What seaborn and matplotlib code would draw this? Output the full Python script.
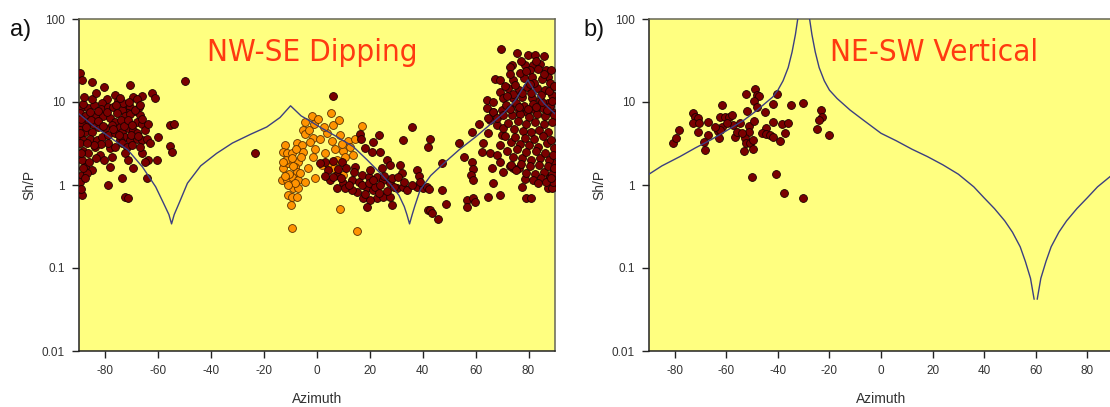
import numpy as np
import pandas as pd
import matplotlib
matplotlib.use("Agg")
import matplotlib.pyplot as plt
from matplotlib import font_manager
import seaborn as sns

# ---------------- panel a: NW-SE dipping ----------------
# dark red events (azimuth in degrees, Sh/P amplitude ratio)
az_a_dark = [
    -89.6, -89.0, -84.9, -80.4, -70.7, -50.1, -62.5, -61.2, -66.3, -69.4, -68.2, -76.4, -79.5, -75.1,
    -81.4, -81.7, -78.9, -72.6, -70.7, -67.5, -71.6, -68.8, -73.8, -89.0, -86.5, -89.6, -87.7, -83.9,
    -80.8, -78.3, -76.4, -72.6, -70.7, -66.9, -68.2, -66.3, -72.0, -74.5, -77.6, -80.2, -82.7, -84.6,
    -86.5, -89.0, -89.6, -87.7, -85.2, -89.8, -88.3, -85.8, -83.3, -81.4, -78.9, -76.4, -73.8, -71.3,
    -69.4, -72.6, -74.5, -70.7, -68.2, -66.3, -64.4, -63.1, -60.0, -55.6, -53.9, -55.6, -54.9, -78.3,
    -76.4, -73.8, -72.0, -70.1, -72.6, -71.3, -66.3, -63.8, -60.6, -65.0, -88.3, -86.5, -89.0, -87.7,
    -85.2, -89.0, -87.1, -78.3, -69.4, -64.4, -73.8, -78.9, -89.0, -72.6, -71.3, -89.8, -83.9, -82.0,
    -66.9,
    -88.5, -86.0, -84.2, -82.8, -85.5, -83.0, -87.3, -81.0, -79.6, -77.2, -75.8, -74.0, -77.0, -75.0,
    -73.0, -71.5, -69.8, -68.0, -70.5, -67.6, -65.2, -64.0, -66.0, -69.0, -73.5, -79.0, -81.8, -84.4,
    -86.9, -89.3, -89.5, -89.4, -88.0, -85.0, -83.5, -76.0, -74.5, -71.0, -67.0, -80.5, -83.5, -77.5,
    -86.3, -88.6, -89.6, -87.9, -89.2,
    -23.4, 6.2,
    35.8, 32.7, 42.1, 23.6, 21.1, 16.3, 16.5, 18.2, 20.7, 23.8, 26.4, 27.6, 31.4, 32.0, 37.7, 38.4,
    14.4, 9.3, 6.2, 3.0, 1.1, 4.3, 4.9, 7.5, 10.0, 13.1, 15.7, 16.9, 19.8, 22.6, 25.1, 27.6, 30.2,
    32.7, 34.0, 37.7, 40.2, 41.5, 18.8, 21.3, 22.6, 25.1, 27.6, 17.5, 20.1, 15.0, 13.1, 10.6, 7.5,
    28.3, 18.8, 42.1,
    17.0, 19.5, 22.0, 24.0, 26.5, 29.0, 21.0, 23.5, 18.0, 25.5, 28.5, 12.0, 9.0, 6.0, 14.0, 11.0,
    3.0, 8.0, 20.0, 24.5, 30.5, 33.0, 36.0, 39.0,
    42.8, 47.2, 42.5, 47.2, 42.8, 43.4, 45.9, 48.8, 53.8, 55.4, 58.5, 61.4, 58.5, 58.9, 58.1, 59.1,
    56.6, 58.9, 59.8, 56.6, 64.8, 69.2, 66.7, 66.1, 62.3, 65.4, 62.9, 64.8, 65.4, 64.2, 66.5, 68.0,
    69.9, 70.5, 69.2, 68.0, 69.2, 70.5, 77.4, 78.7, 79.1, 81.0, 74.3, 76.2, 73.0, 88.8, 88.2, 89.4,
    87.5, 89.0,
    69.5, 75.5, 79.9, 82.5, 85.9, 73.6, 72.8, 78.7, 81.6, 84.4, 80.6, 83.7, 86.6, 87.5, 67.3, 69.2,
    74.3, 78.1, 81.2, 85.0, 88.1, 72.4, 69.2, 76.2, 79.3, 83.1, 86.3, 88.8, 64.2, 66.5, 70.5, 74.3,
    77.4, 81.2, 84.4, 87.5, 66.7, 69.9, 73.0, 76.2, 79.3, 82.5, 85.6, 88.8, 64.8, 68.0,
    88.1, 88.8, 89.4,
    71.5, 73.8, 75.2, 76.9, 78.4, 80.1, 81.7, 83.3, 85.0, 86.4, 88.2, 89.5,
    72.3, 74.6, 76.0, 77.8, 79.2, 81.0, 82.6, 84.1, 85.8, 87.4, 89.0,
    71.0, 73.2, 75.0, 76.7, 78.5, 80.3, 82.0, 83.6, 85.3, 87.0, 88.6, 89.7,
    72.0, 74.1, 75.8, 77.5, 79.0, 80.9, 82.7, 84.5, 86.1, 87.8, 89.3,
    73.5, 75.3, 77.0, 78.9, 80.6, 82.3, 84.0, 85.7, 87.2, 88.9, 89.8,
    81.5, 84.8, 86.6, 88.3, 83.4,
    70.2, 72.9, 76.3, 79.7, 83.0, 86.9, 88.8, 74.0, 77.7, 80.8, 84.6, 87.9, 89.6, 71.2, 73.0, 76.8,
    79.0, 82.2, 85.7, 88.5, 83.0, 77.0, 80.5, 75.0, 72.0,
]
ratio_a_dark = [
    22.1, 18.4, 17.3, 15.0, 16.0, 18.1, 12.7, 11.1, 11.9, 11.6, 10.8, 12.1, 10.8, 10.4,
    9.6, 8.2, 8.8, 9.0, 8.8, 8.8, 7.4, 7.7, 8.0, 8.8, 8.4, 7.3, 6.7, 6.8,
    6.7, 6.4, 5.8, 6.7, 7.1, 7.0, 5.8, 5.5, 5.5, 5.0, 5.3, 4.8, 5.0, 5.5,
    5.8, 5.5, 4.6, 4.4, 4.4, 3.8, 3.5, 3.6, 3.5, 3.8, 4.0, 4.2, 4.4, 4.8,
    4.6, 3.8, 3.5, 3.5, 3.6, 3.5, 3.6, 3.2, 3.8, 5.3, 5.5, 2.95, 2.5, 2.8,
    2.9, 3.2, 2.9, 3.0, 2.4, 2.0, 2.4, 2.0, 2.0, 1.9, 2.6, 2.4, 2.0, 1.66,
    1.5, 1.32, 1.38, 1.66, 1.59, 1.2, 1.2, 1.0, 0.76, 0.72, 0.69, 3.2, 2.9, 2.3,
    2.9,
    9.5, 7.6, 9.2, 7.8, 6.1, 5.9, 5.0, 5.2, 7.5, 8.6, 7.3, 6.1, 4.7, 4.0,
    5.2, 6.0, 5.3, 4.2, 4.0, 3.9, 4.6, 5.5, 6.3, 7.9, 9.6, 3.2, 3.1, 3.0,
    3.2, 2.4, 4.2, 6.2, 11.5, 11.0, 13.0, 9.3, 11.2, 10.0, 9.2, 2.0, 2.1, 2.2,
    1.9, 1.6, 1.1, 1.2, 0.9,
    2.45, 11.8,
    5.0, 3.5, 2.9, 4.0, 3.3, 4.1, 3.6, 2.8, 2.5, 2.5, 2.0, 1.74, 1.74, 1.41, 1.52, 1.28,
    1.66, 1.91, 1.96, 1.91, 1.82, 1.52, 1.15, 1.32, 1.07, 1.15, 1.1, 1.32, 1.24, 1.26, 1.15, 1.07, 0.91,
    0.94, 0.87, 0.94, 0.91, 0.94, 0.91, 0.87, 0.69, 0.72, 0.72, 0.69, 0.66, 0.83, 0.87, 0.91, 0.91,
    0.57, 0.55, 0.5,
    1.0, 1.05, 0.95, 1.0, 0.85, 0.95, 1.15, 0.8, 0.78, 1.3, 1.2, 1.0, 1.2, 1.25, 1.45, 1.6,
    1.3, 1.55, 1.5, 1.6, 1.25, 1.1, 1.0, 1.1,
    3.6, 1.82, 0.89, 0.86, 0.5, 0.46, 0.39, 0.59, 3.2, 2.2, 4.3, 5.4, 1.91, 1.56, 1.32, 1.15,
    0.66, 0.69, 0.63, 0.55, 0.72, 0.76, 1.07, 1.59, 2.5, 2.4, 3.2, 4.2, 6.1, 8.4, 7.6, 5.3,
    4.0, 4.8, 3.0, 2.3, 1.91, 1.45, 0.94, 1.17, 0.69, 0.70, 1.59, 1.59, 1.69, 1.05, 1.26, 1.59,
    0.91, 1.91,
    43.0, 38.5, 36.8, 36.8, 35.8, 27.9, 26.1, 27.9, 27.9, 28.6, 24.3, 24.7, 24.3, 20.2, 18.7, 18.4,
    18.4, 19.3, 20.2, 18.7, 16.8, 14.6, 13.3, 13.9, 15.3, 14.6, 13.9, 12.1, 10.6, 10.1, 11.1, 11.1,
    11.6, 11.1, 10.6, 9.6, 7.6, 8.0, 8.4, 8.0, 7.6, 8.0, 8.4, 7.6, 6.4, 6.4,
    1.26, 0.91, 1.1,
    9.2, 6.9, 9.8, 7.1, 9.0, 6.6, 9.4, 7.2, 9.9, 6.8, 8.9, 7.0,
    5.6, 4.7, 5.9, 4.5, 5.4, 4.3, 5.7, 4.6, 5.5, 4.4, 5.8,
    3.9, 3.3, 3.8, 3.1, 3.7, 3.0, 3.6, 2.9, 3.9, 3.2, 3.5, 2.8,
    2.6, 2.2, 2.7, 2.1, 2.5, 2.0, 2.6, 2.1, 2.4, 2.0, 2.3,
    1.75, 1.5, 1.8, 1.4, 1.7, 1.35, 1.75, 1.45, 1.7, 1.35, 1.6,
    1.15, 1.2, 1.1, 1.2, 1.05,
    7.0, 8.2, 8.6, 8.3, 8.7, 8.0, 10.3, 12.5, 13.0, 12.8, 12.2, 13.5, 15.5, 15.8, 21.5, 22.5,
    23.8, 17.0, 21.5, 24.5, 31.5, 31.0, 16.6, 16.0, 11.8,
]

# orange events
az_a_orange = [
    -12.1, -12.7, -11.5, -12.7, -10.8, -13.3, -11.5, -10.8,
    5.2, -2.0, -4.5, -1.1, 6.2, 8.5, 16.9, -5.2, -4.5, -1.6, 3.9, 8.7, 5.6, 11.9, -7.7, -5.8,
    -5.2, -0.7, 6.8, 10.0, 12.5, -9.6, -7.1, -8.3, -7.7, -9.6, -7.1, -4.5, -1.4, 1.8, 4.7, 7.5,
    10.6, -8.9, -7.1, -9.6, -7.7, -9.9, -0.7, 8.7, 15.0, -9.6, 10.0,
    -11.8, -9.0, -10.5, -12.0, -8.5, -6.5, -9.5, -6.0, -11.0, -13.0, -8.0, -3.5, -2.5, 1.0, 3.0,
    2.5, -3.0, 0.5, 13.5, 14.5, 9.5, 6.5,
]
ratio_a_orange = [
    3.0, 2.5, 2.4, 1.59, 1.82, 1.15, 1.15, 0.76,
    7.4, 6.7, 5.8, 5.4, 5.3, 6.0, 5.2, 4.6, 4.1, 3.7, 4.2, 4.0, 3.4, 3.4, 3.2, 3.0,
    2.5, 2.7, 2.7, 2.6, 2.9, 2.4, 1.91, 1.66, 1.45, 1.26, 1.15, 1.1, 2.2, 1.74, 1.74, 2.0,
    2.2, 0.91, 0.91, 0.72, 0.72, 0.57, 1.2, 0.51, 0.28, 0.30, 1.32,
    2.0, 1.7, 1.35, 1.3, 1.05, 1.4, 2.1, 2.2, 1.0, 1.9, 2.7, 1.6, 3.3, 3.6, 2.4,
    5.0, 4.6, 6.2, 2.3, 3.6, 3.1, 1.6,
]

# model Sh/P curve for the dipping fault
az_a_curve = [
    -90, -85, -79, -71.5, -66, -61, -58, -56, -55, -54, -52, -49, -44, -38, -32, -25, -19, -14, -10,
    -6, -3, 1, 7, 13.7, 19, 24, 28, 31, 33, 34, 35, 36, 37, 39, 43, 48, 54, 60, 65, 70.5, 75,
    79.7, 83, 86, 90,
]
ratio_a_curve = [
    7.2, 5.3, 3.9, 2.64, 1.65, 0.95, 0.6, 0.44, 0.34, 0.44, 0.62, 1.05, 1.7, 2.4, 3.2, 4.1, 5.0, 6.5, 9.0,
    6.8, 6.0, 5.0, 3.9, 2.9, 2.0, 1.38, 1.0, 0.75, 0.55, 0.44, 0.34, 0.44, 0.56, 0.87, 1.3, 1.83, 2.7,
    3.8, 5.2, 7.3, 10.5, 18.4, 12.5, 9.5, 7.2,
]

# ---------------- panel b: NE-SW vertical ----------------
az_b = [
    -80.6, -79.6, -78.2, -72.8, -72.2, -70.9, -72.8, -70.5, -70.9, -67.0, -67.2, -68.7, -68.3, -61.6,
    -62.5, -60.5, -58.8, -57.9, -61.5, -63.4, -62.5, -62.8, -57.3, -56.6, -54.7, -55.7, -52.4, -48.9,
    -48.2, -47.2, -49.2, -48.0, -52.0, -51.3, -51.4, -52.8, -52.2, -50.8, -49.5, -53.2, -49.5, -49.2,
    -45.1, -41.8, -40.2, -35.0, -30.1, -41.8, -38.5, -36.0, -44.6, -46.3, -44.6, -43.1, -41.8, -39.2,
    -37.2, -23.3, -23.0, -24.1, -24.7, -20.2, -50.2, -40.7, -37.6, -30.1, -59.6, -54.0, -64.4,
]
ratio_b = [
    3.18, 3.65, 4.6, 7.3, 6.65, 6.36, 5.63, 5.53, 4.31, 5.69, 4.0, 3.27, 2.62, 9.12,
    6.65, 6.65, 6.65, 6.97, 5.04, 4.51, 4.6, 3.65, 5.28, 3.82, 5.53, 4.39, 12.5, 14.2,
    12.1, 11.8, 10.4, 8.78, 7.86, 5.18, 4.39, 3.65, 3.18, 3.24, 3.48, 2.59, 2.69, 5.9,
    7.5, 9.5, 12.4, 9.12, 9.8, 5.8, 5.39, 5.53, 4.82, 4.2, 4.11, 4.0, 3.82, 3.39,
    4.2, 8.0, 6.65, 6.07, 4.69, 4.0, 1.24, 1.36, 0.81, 0.69, 5.63, 4.2, 5.04,
]

# model Sh/P curve for the vertical fault (three branches)
az_b_curve = [
    -90, -85, -78, -72, -66, -60, -53, -48, -45, -42, -40, -38, -36, -34.5, -33.2, -32.3,
    -27.7, -26.8, -25.5, -24, -22, -20, -17, -12, -7, 0, 6, 12, 18, 24, 30, 36, 40, 44, 48, 51,
    54, 56, 58, 59.4,
    60.6, 62, 64, 66, 69, 72, 76, 80, 84, 90,
]
ratio_b_curve = [
    1.35, 1.7, 2.2, 2.8, 3.5, 4.5, 6.1, 8.0, 9.6, 11.5, 13.9, 18, 26, 40, 65, 100,
    100, 65, 40, 26, 18, 13.9, 11.0, 8.0, 6.1, 4.2, 3.4, 2.7, 2.2, 1.75, 1.35, 0.95, 0.7, 0.52, 0.37, 0.27,
    0.18, 0.12, 0.075, 0.042,
    0.042, 0.075, 0.12, 0.18, 0.27, 0.37, 0.52, 0.7, 0.95, 1.35,
]
branch_b_curve = [0] * 16 + [1] * 24 + [2] * 10

y_ticks = [0.01, 0.1, 1, 10, 100]
y_tick_labels = ["0.01", "0.1", "1", "10", "100"]
x_ticks = [-80, -60, -40, -20, 0, 20, 40, 60, 80]

# ---------------- drawing ----------------
sns.set_theme(style="ticks")
plt.rcParams["font.family"] = ["Liberation Sans", "DejaVu Sans"]

BG = "#FFFF80"
DARK = "#7A0000"
ORANGE = "#FF9300"
CURVE = "#3C3F80"
TITLE_RED = "#FF3A10"

# narrow face for the in-panel titles
installed = {f.name for f in font_manager.fontManager.ttflist}
if "Liberation Sans Narrow" in installed:
    title_font = dict(family="Liberation Sans Narrow", fontsize=23)
else:
    title_font = dict(family="DejaVu Sans", fontstretch="condensed", fontsize=22.5)

fig = plt.figure(figsize=(11.10, 4.07), dpi=100)
fig.patch.set_facecolor("white")
ax_a = fig.add_axes([79 / 1110, 56 / 407, 476 / 1110, 332 / 407])
ax_b = fig.add_axes([649 / 1110, 56 / 407, 464 / 1110, 332 / 407])


def style_axes(ax):
    ax.set_facecolor(BG)
    ax.set_yscale("log")
    ax.set_xlim(-90, 90)
    ax.set_ylim(0.01, 100)
    ax.set_yticks(y_ticks)
    ax.set_yticklabels(y_tick_labels)
    ax.set_xticks(x_ticks)
    ax.set_xticklabels([str(t) for t in x_ticks])
    ax.minorticks_off()
    ax.tick_params(axis="both", direction="out", length=5, width=1, color="#222222",
                   labelsize=8.5, labelcolor="#333333", pad=5)
    for side in ["left", "bottom", "top", "right"]:
        ax.spines[side].set_visible(True)
        ax.spines[side].set_linewidth(1.1)
        ax.spines[side].set_color("#222222" if side in ("left", "bottom") else "#666655")
    ax.set_xlabel("Azimuth", fontsize=10, color="#333333", labelpad=11)
    ax.set_ylabel("Sh/P", fontsize=10, color="#333333", labelpad=4)


# panel a
df_a_dark = pd.DataFrame({"az": az_a_dark, "ratio": ratio_a_dark})
df_a_orange = pd.DataFrame({"az": az_a_orange, "ratio": ratio_a_orange})
df_a_curve = pd.DataFrame({"az": az_a_curve, "ratio": ratio_a_curve})

sns.scatterplot(data=df_a_orange, x="az", y="ratio", ax=ax_a, s=32, color=ORANGE,
                edgecolor="#5A3000", linewidth=0.6, zorder=3)
sns.scatterplot(data=df_a_dark, x="az", y="ratio", ax=ax_a, s=32, color=DARK,
                edgecolor="#1A0000", linewidth=0.6, zorder=3)
sns.lineplot(data=df_a_curve, x="az", y="ratio", ax=ax_a, sort=False, estimator=None,
             color=CURVE, linewidth=1.0, zorder=4)
style_axes(ax_a)
ax_a.text(0.49, 0.90, "NW-SE Dipping", transform=ax_a.transAxes, ha="center", va="center",
          color=TITLE_RED, **title_font)

# panel b
df_b = pd.DataFrame({"az": az_b, "ratio": ratio_b})
df_b_curve = pd.DataFrame({"az": az_b_curve, "ratio": ratio_b_curve, "branch": branch_b_curve})

sns.scatterplot(data=df_b, x="az", y="ratio", ax=ax_b, s=32, color=DARK,
                edgecolor="#1A0000", linewidth=0.6, zorder=3)
sns.lineplot(data=df_b_curve, x="az", y="ratio", units="branch", estimator=None, sort=False,
             ax=ax_b, color=CURVE, linewidth=1.0, zorder=4)
style_axes(ax_b)
ax_b.text(0.615, 0.90, "NE-SW Vertical", transform=ax_b.transAxes, ha="center", va="center",
          color=TITLE_RED, **title_font)

# panel letters
fig.text(10 / 1110, 1 - 30 / 407, "a)", fontsize=17, color="#111111", va="center", ha="left")
fig.text(583 / 1110, 1 - 30 / 407, "b)", fontsize=17, color="#111111", va="center", ha="left")

fig.savefig("out.png", dpi=100, facecolor="white")
